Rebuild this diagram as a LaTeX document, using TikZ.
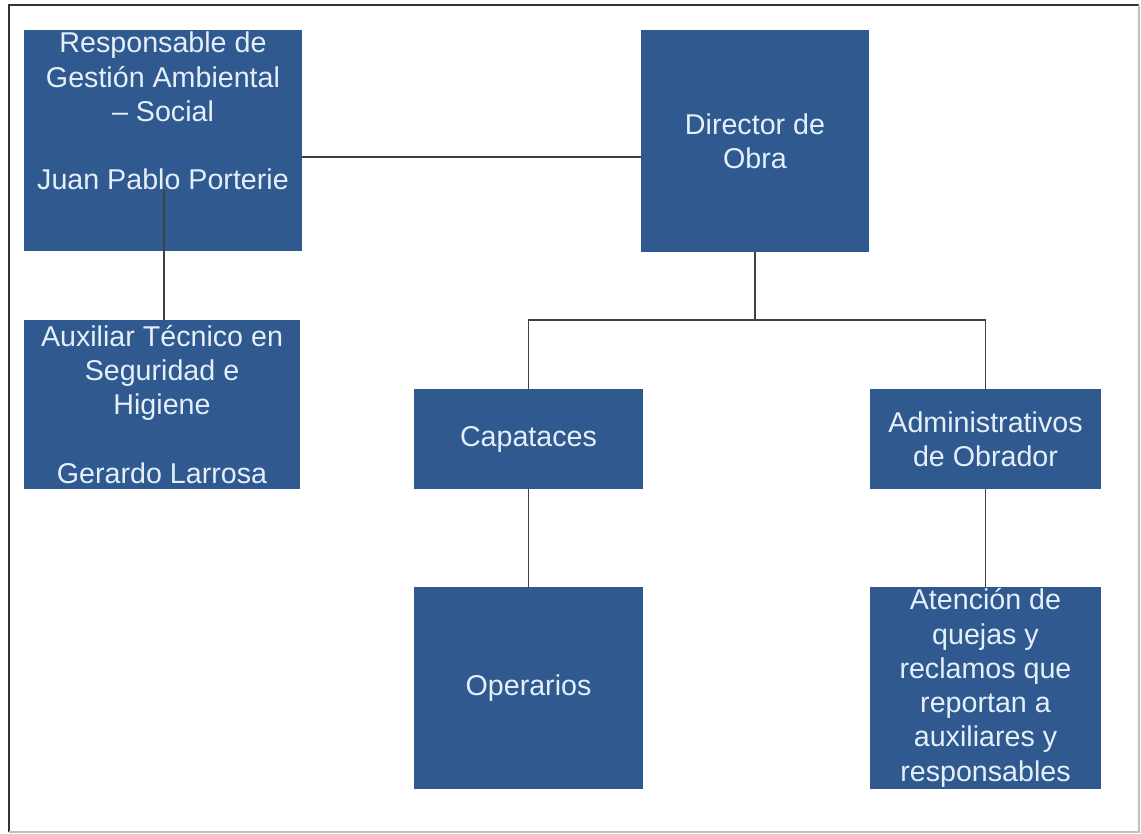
\documentclass[tikz,border=0pt]{standalone}
\usepackage{fontspec}
\setmainfont{Liberation Sans}
\definecolor{boxblue}{RGB}{47,89,143}
\definecolor{boxtext}{RGB}{228,239,250}
\definecolor{linegray}{RGB}{64,64,64}

\begin{document}
\begin{tikzpicture}[orgbox/.style={fill=boxblue, text=boxtext, align=center, inner sep=0pt, font=\fontsize{16.3}{19.5}\selectfont},
		conn/.style={draw=linegray, line width=1.1pt}]
			\useasboundingbox (0,0) rectangle (22.82,-16.68);
			\fill[white] (0,0) rectangle (22.82,-16.68);
			\draw[black!80, line width=1.5pt] (0.18,-16.64) -- (0.18,-0.10) -- (22.78,-0.10);
			\draw[black!25, line width=0.8pt] (0.18,-16.64) -- (22.78,-16.64) -- (22.78,-0.10);

			\node[orgbox, minimum width=5.56cm, minimum height=4.42cm, text depth=1.18cm] at (3.26, -2.81) (resp) {Responsable de\\ Gestión Ambiental\\ – Social\\[19.5pt] Juan Pablo Porterie};
			\node[orgbox, minimum width=4.56cm, minimum height=4.44cm] at (15.10, -2.82) (dir) {Director de\\ Obra};
			\node[orgbox, minimum width=5.52cm, minimum height=3.38cm] at (3.24, -8.09) (aux) {Auxiliar Técnico en\\ Seguridad e\\ Higiene\\[19.5pt] Gerardo Larrosa};

			\node[orgbox, minimum width=4.58cm, minimum height=2.00cm] at (10.57, -8.78) (cap) {Capataces};
			\node[orgbox, minimum width=4.62cm, minimum height=2.00cm] at (19.71, -8.78) (adm) {Administrativos\\ de Obrador};
			\node[orgbox, minimum width=4.58cm, minimum height=4.04cm] at (10.57, -13.76) (ope) {Operarios};
			\node[orgbox, minimum width=4.62cm, minimum height=4.04cm] at (19.71, -13.76) (ate) {Atención de\\ quejas y\\ reclamos que\\ reportan a\\ auxiliares y\\ responsables};

			\coordinate (rj) at ([yshift=-0.33cm]resp.east);
			\coordinate (rv) at (3.28, -3.80);
			\coordinate (bus) at (15.10, -6.40);

			\draw[conn] (rj) -- (rj -| dir.west);
			\draw[conn] (rv) -- (rv |- aux.north);
			\draw[conn] (dir.south) -- (bus);
			\draw[conn] (cap.north) |- (bus) -| (adm.north);
			\draw[conn] (cap.south) -- (ope.north);
			\draw[conn] (adm.south) -- (ate.north);
		\end{tikzpicture}
\end{document}
